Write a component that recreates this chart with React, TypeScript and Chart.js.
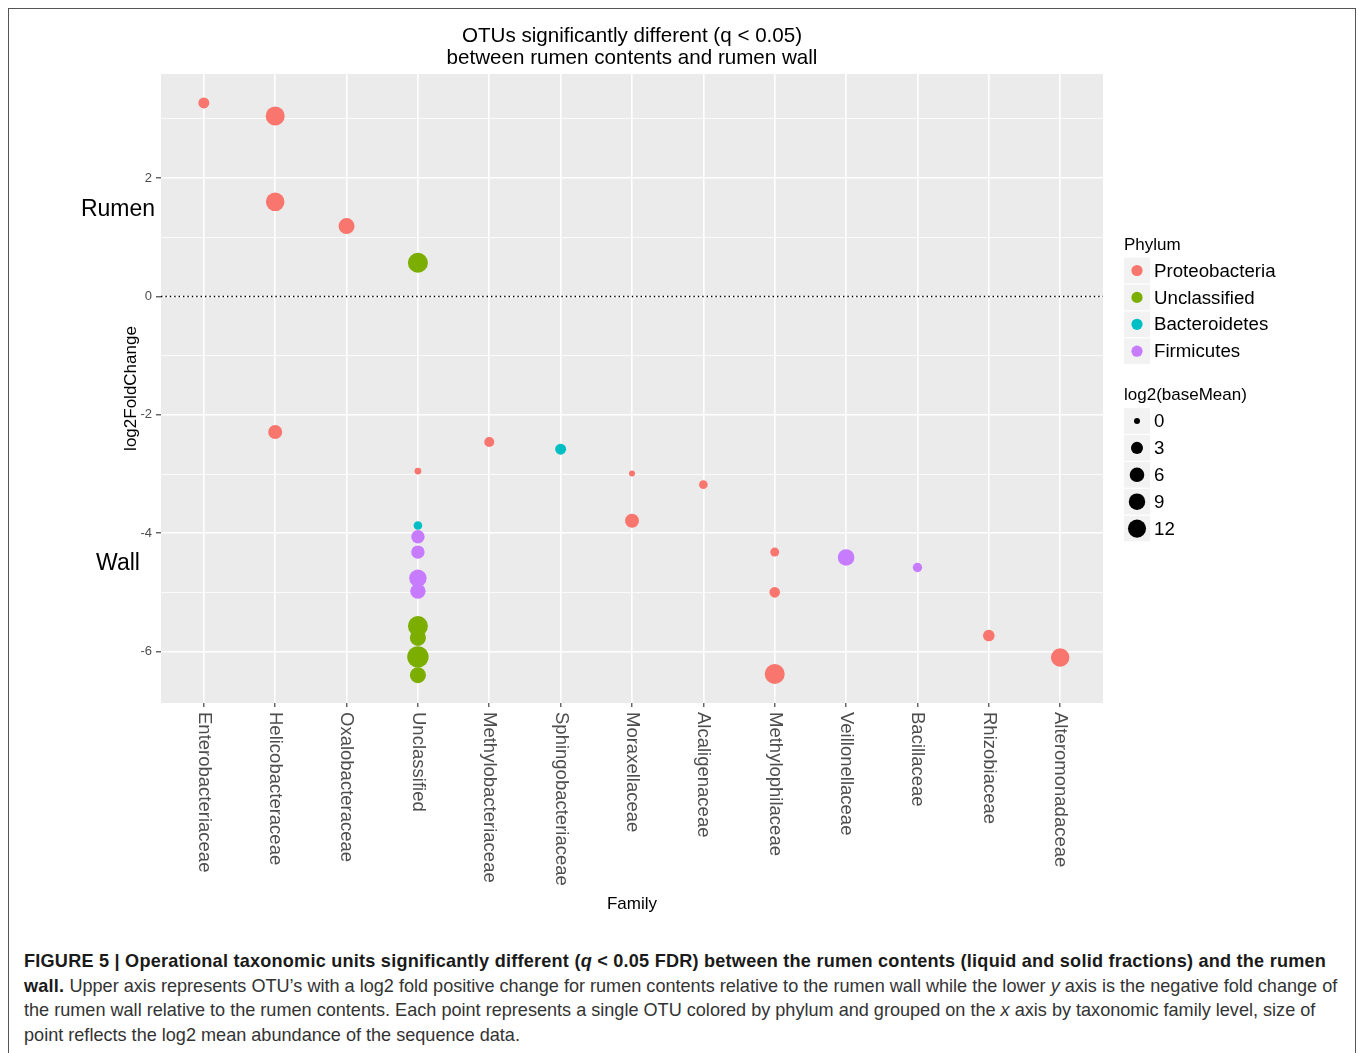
import React, { useEffect, useRef } from "react";
import { Chart, registerables } from "chart.js";

Chart.register(...registerables);

const FONT = "'Liberation Sans', Arial, Helvetica, sans-serif";

// ---------- data ----------
const families = [
  "Enterobacteriaceae",
  "Helicobacteraceae",
  "Oxalobacteraceae",
  "Unclassified",
  "Methylobacteriaceae",
  "Sphingobacteriaceae",
  "Moraxellaceae",
  "Alcaligenaceae",
  "Methylophilaceae",
  "Veillonellaceae",
  "Bacillaceae",
  "Rhizobiaceae",
  "Alteromonadaceae",
];

const phyla = ["Proteobacteria", "Unclassified", "Bacteroidetes", "Firmicutes"];
const phylumColors = ["#F8766D", "#7CAE00", "#00BFC4", "#C77CFF"];

// one entry per OTU (family index is 1-based position on the x axis)
const otuFamily = [1, 2, 2, 2, 3, 4, 4, 4, 4, 4, 4, 4, 4, 4, 4, 4, 5, 6, 7, 7, 8, 9, 9, 9, 10, 11, 12, 13];
const otuPhylum = [0, 0, 0, 0, 0, 1, 0, 2, 3, 3, 3, 3, 1, 1, 1, 1, 0, 2, 0, 0, 0, 0, 0, 0, 3, 3, 0, 0];
const otuLog2FoldChange = [
  3.27, 3.05, 1.6, -2.29, 1.19, 0.57, -2.95, -3.87, -4.06, -4.32, -4.76, -4.98, -5.57, -5.77, -6.09, -6.4,
  -2.46, -2.58, -2.99, -3.79, -3.18, -4.32, -5.0, -6.38, -4.41, -4.58, -5.73, -6.1,
];
const otuLog2BaseMean = [
  2.0, 13.8, 13.0, 5.2, 8.2, 16.0, 0.05, 0.55, 4.5, 4.5, 10.6, 7.2, 16.0, 8.2, 19.4, 8.2,
  1.3, 2.0, 0.0, 5.2, 0.55, 0.73, 1.7, 16.0, 9.2, 0.94, 2.6, 12.6,
];

const sizeBreaks = [0, 3, 6, 9, 12];
const yTickValues = [-6, -5, -4, -3, -2, -1, 0, 1, 2, 3];
const yMin = -6.87;
const yMax = 3.76;

const titleLines = ["OTUs significantly different (q < 0.05)", "between rumen contents and rumen wall"];

// ---------- helpers ----------
const radiusOf = (s: number) => 3 + 1.75 * Math.sqrt(Math.max(0, s));
const isMajor = (v: number) => Math.abs(v % 2) === 0;

const datasets = [0, 1, 3, 2].map((pi) => ({
  label: phyla[pi],
  data: otuFamily
    .map((f, i) => ({ x: f, y: otuLog2FoldChange[i], s: otuLog2BaseMean[i], ph: otuPhylum[i] }))
    .filter((d) => d.ph === pi),
  backgroundColor: phylumColors[pi],
  borderWidth: 0,
  pointBorderWidth: 0,
  pointRadius: (ctx: any) => radiusOf(ctx.raw ? ctx.raw.s : 0),
  pointHoverRadius: (ctx: any) => radiusOf(ctx.raw ? ctx.raw.s : 0),
}));

const decorPlugin = {
  id: "decor",
  beforeDraw(chart: any) {
    const { ctx, chartArea } = chart;
    ctx.save();
    ctx.fillStyle = "#EBEBEB";
    ctx.fillRect(chartArea.left, chartArea.top, chartArea.right - chartArea.left, chartArea.bottom - chartArea.top);
    ctx.restore();
  },
  beforeDatasetsDraw(chart: any) {
    const { ctx, chartArea, scales } = chart;
    const y0 = Math.round(scales.y.getPixelForValue(0)) + 0.5;
    ctx.save();
    ctx.strokeStyle = "#000000";
    ctx.lineWidth = 1.3;
    ctx.setLineDash([1.4, 3]);
    ctx.beginPath();
    ctx.moveTo(chartArea.left, y0);
    ctx.lineTo(chartArea.right, y0);
    ctx.stroke();
    ctx.restore();
  },
  afterDraw(chart: any) {
    const { ctx, chartArea, scales } = chart;
    const cx = (chartArea.left + chartArea.right) / 2;
    const cy = (chartArea.top + chartArea.bottom) / 2;
    ctx.save();
    // title
    ctx.fillStyle = "#000000";
    ctx.font = `20.6px ${FONT}`;
    ctx.textAlign = "center";
    ctx.textBaseline = "middle";
    ctx.fillText(titleLines[0], cx, 36);
    ctx.fillText(titleLines[1], cx, 58);

    // x tick labels rotated clockwise
    ctx.fillStyle = "#4D4D4D";
    ctx.font = `18.5px ${FONT}`;
    scales.x.ticks.forEach((t: any) => {
      const px = scales.x.getPixelForValue(t.value);
      ctx.save();
      ctx.translate(px, chartArea.bottom + 9);
      ctx.rotate(Math.PI / 2);
      ctx.textAlign = "left";
      ctx.textBaseline = "middle";
      ctx.fillText(families[t.value - 1], 0, 0);
      ctx.restore();
    });

    // axis titles
    ctx.fillStyle = "#000000";
    ctx.font = `17px ${FONT}`;
    ctx.textAlign = "center";
    ctx.textBaseline = "middle";
    ctx.fillText("Family", cx, 904);
    ctx.save();
    ctx.translate(131, cy);
    ctx.rotate(-Math.PI / 2);
    ctx.fillText("log2FoldChange", 0, 0);
    ctx.restore();

    // Rumen / Wall annotations
    ctx.font = `23px ${FONT}`;
    ctx.fillText("Rumen", 118, scales.y.getPixelForValue(1.47));
    ctx.fillText("Wall", 118, scales.y.getPixelForValue(-4.52));

    // legend: Phylum
    const lx = 1124;
    ctx.textAlign = "left";
    ctx.font = `17px ${FONT}`;
    ctx.fillText("Phylum", lx, 245);
    ctx.font = `18.7px ${FONT}`;
    phyla.forEach((p, i) => {
      const yc = 270.5 + i * 26.9;
      ctx.fillStyle = "#F2F2F2";
      ctx.fillRect(lx, yc - 12.8, 26, 25.6);
      ctx.fillStyle = phylumColors[i];
      ctx.beginPath();
      ctx.arc(lx + 13, yc, 5.6, 0, Math.PI * 2);
      ctx.fill();
      ctx.fillStyle = "#000000";
      ctx.fillText(p, 1154, yc + 1);
    });

    // legend: size
    ctx.font = `17px ${FONT}`;
    ctx.fillText("log2(baseMean)", lx, 395);
    ctx.font = `18.7px ${FONT}`;
    sizeBreaks.forEach((b, i) => {
      const yc = 421 + i * 26.9;
      ctx.fillStyle = "#F2F2F2";
      ctx.fillRect(lx, yc - 12.8, 26, 25.6);
      ctx.fillStyle = "#000000";
      ctx.beginPath();
      ctx.arc(lx + 13, yc, radiusOf(b), 0, Math.PI * 2);
      ctx.fill();
      ctx.fillText(String(b), 1154, yc + 1);
    });
    ctx.restore();
  },
};

export default function App() {
  const ref = useRef<HTMLCanvasElement>(null);

  useEffect(() => {
    document.documentElement.style.overflow = "hidden";
    document.body.style.overflow = "hidden";
    const chart = new Chart(ref.current as HTMLCanvasElement, {
      type: "scatter",
      data: { datasets: datasets as any },
      options: {
        animation: false,
        responsive: false,
        devicePixelRatio: 1,
        layout: { padding: { top: 74, right: 255, bottom: 0, left: 0 } },
        plugins: {
          legend: { display: false },
          title: { display: false },
          tooltip: { enabled: false },
        },
        scales: {
          x: {
            type: "linear",
            min: 0.4,
            max: 13.6,
            afterBuildTicks: (scale: any) => {
              scale.ticks = families.map((_, i) => ({ value: i + 1 }));
            },
            ticks: { display: false },
            grid: {
              color: "#FFFFFF",
              lineWidth: 1.6,
              tickColor: "#333333",
              tickLength: 4,
              tickWidth: 1.1,
            },
            border: { display: false },
            afterFit: (scale: any) => {
              scale.height = 227;
              scale.paddingLeft = 0;
              scale.paddingRight = 0;
            },
          },
          y: {
            type: "linear",
            min: yMin,
            max: yMax,
            afterBuildTicks: (scale: any) => {
              scale.ticks = yTickValues.map((v) => ({ value: v }));
            },
            ticks: {
              callback: (v: any) => (isMajor(Number(v)) ? String(v) : ""),
              color: "#4D4D4D",
              font: { size: 13, family: FONT },
              padding: 4,
            },
            grid: {
              color: "#FFFFFF",
              lineWidth: (ctx: any) => (ctx.tick && isMajor(ctx.tick.value) ? 1.6 : 0.8),
              tickColor: (ctx: any) => (ctx.tick && isMajor(ctx.tick.value) ? "#333333" : "rgba(0,0,0,0)"),
              tickLength: 5,
              tickWidth: 1.1,
            },
            border: { display: false },
            afterFit: (scale: any) => {
              scale.width = 161;
              scale.paddingTop = 0;
              scale.paddingBottom = 0;
            },
          },
        },
      },
      plugins: [decorPlugin],
    } as any);
    return () => chart.destroy();
  }, []);

  return (
    <div>
      <div
        style={{
          position: "absolute",
          left: 8,
          top: 8,
          width: 1348,
          height: 1100,
          border: "1px solid #555555",
          boxSizing: "border-box",
        }}
      />
      <canvas
        ref={ref}
        width={1358}
        height={930}
        style={{ position: "absolute", left: 0, top: 0, width: 1358, height: 930 }}
      />
      <div
        style={{
          position: "absolute",
          left: 24,
          top: 949,
          fontFamily: FONT,
          fontSize: 18.1,
          lineHeight: "24.7px",
          color: "#333333",
          whiteSpace: "nowrap",
        }}
      >
        <div style={{ fontWeight: "bold", color: "#1A1A1A", letterSpacing: "0.23px" }}>
          FIGURE 5 | Operational taxonomic units significantly different (<i>q</i> &lt; 0.05 FDR) between the rumen
          contents (liquid and solid fractions) and the rumen
        </div>
        <div>
          <b style={{ color: "#1A1A1A", letterSpacing: "0.23px" }}>wall.</b> Upper axis represents OTU’s with a log2
          fold positive change for rumen contents relative to the rumen wall while the lower <i>y</i> axis is the
          negative fold change of
        </div>
        <div>
          the rumen wall relative to the rumen contents. Each point represents a single OTU colored by phylum and
          grouped on the <i>x</i> axis by taxonomic family level, size of
        </div>
        <div>point reflects the log2 mean abundance of the sequence data.</div>
      </div>
    </div>
  );
}
